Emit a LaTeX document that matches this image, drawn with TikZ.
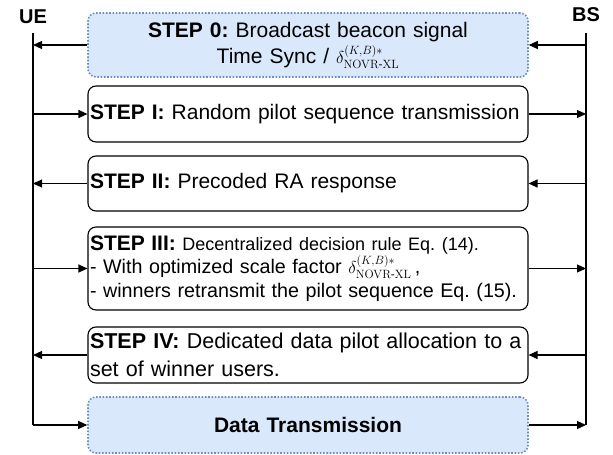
\documentclass[tikz,border=0pt]{standalone}
\usepackage{amsmath}
\usepackage[no-math]{fontspec}
\setmainfont{Liberation Sans}
\usepackage{tikz}
\usetikzlibrary{arrows.meta}
\frenchspacing
\definecolor{beaconfill}{HTML}{DAE8FC}
\definecolor{beacondraw}{HTML}{6C8EBF}
\newcommand{\scalefac}{{\fontsize{17}{20}\selectfont$\delta^{(K,B)*}_{\mathrm{NOVR\text{-}XL}}$}}
\tikzstyle{broadcast} = [rectangle, rounded corners=8pt, minimum width=440pt, minimum height=64pt, text width=430pt, align=center, draw=beacondraw, fill=beaconfill, line width=1.6pt, dash pattern=on 1.6pt off 1.7pt, font=\fontsize{21}{26}\selectfont]
\tikzstyle{process} = [rectangle, rounded corners=8pt, minimum width=440pt, minimum height=56pt, text width=436pt, inner xsep=2pt, align=left, draw=black, line width=1.1pt, font=\fontsize{21}{24}\selectfont]
\tikzstyle{entity} = [font=\fontsize{20}{24}\selectfont\bfseries]
\tikzstyle{lifeline} = [line width=1.1pt]
\tikzstyle{arrow} = [line width=1.1pt,->,>={Triangle[length=9pt,width=8pt]}]

\begin{document}
\begin{tikzpicture}[node distance=69pt]
\useasboundingbox (0,0) rectangle (613pt,-455pt);
\node (ue) [entity] at (33pt,-17pt) {UE};
\node (bs) [entity] at (586pt,-15pt) {BS};
\coordinate (ue top) at (33pt,-33pt);
\coordinate (bs top) at (586pt,-33pt);

\node (s0) [broadcast] at (308pt,-45pt) {\textbf{STEP 0:} Broadcast beacon signal\\Time Sync / \scalefac};
\node (s1) [process, below of=s0] {\textbf{STEP I:} Random pilot sequence transmission};
\node (s2) [process, node distance=69.5pt, below of=s1, minimum height=55pt] {\textbf{STEP II:} Precoded RA response};
\node (s3) [process, node distance=85pt, below of=s2, minimum height=83pt, font=\fontsize{19.7}{23.5}\selectfont] {{\fontsize{21}{23.5}\selectfont\textbf{STEP III:}} {\fontsize{18}{20}\selectfont Decentralized decision rule Eq.\ (14).}\\- With optimized scale factor \scalefac\,,\\- winners retransmit the pilot sequence Eq.\ (15).};
\node (s4) [process, node distance=86.5pt, below of=s3, font=\fontsize{21.5}{28}\selectfont] {\textbf{STEP IV:} Dedicated data pilot allocation to a\\set of winner users.};
\node (data) [broadcast, node distance=70pt, below of=s4, minimum height=56pt] {\textbf{Data Transmission}};

\coordinate (ue bot) at (ue top |- data.west);
\coordinate (bs bot) at (bs top |- data.east);
\draw [lifeline] (ue top) -- (ue bot);
\draw [lifeline] (bs top) -- (bs bot);

\draw [arrow] (s0.west) -- (s0.west -| ue top);
\draw [arrow] (s0.east -| bs top) -- (s0.east);
\draw [arrow] (s1.west -| ue top) -- (s1.west);
\draw [arrow] (s1.east) -- (s1.east -| bs top);
\draw [arrow] (s2.west) -- (s2.west -| ue top);
\draw [arrow] (s2.east -| bs top) -- (s2.east);
\draw [arrow] (s3.west -| ue top) -- (s3.west);
\draw [arrow] (s3.east) -- (s3.east -| bs top);
\draw [arrow] (s4.west) -- (s4.west -| ue top);
\draw [arrow] (s4.east -| bs top) -- (s4.east);
\draw [arrow] (ue bot) -- (data.west);
\draw [arrow] (data.east) -- (bs bot);
\end{tikzpicture}
\end{document}
